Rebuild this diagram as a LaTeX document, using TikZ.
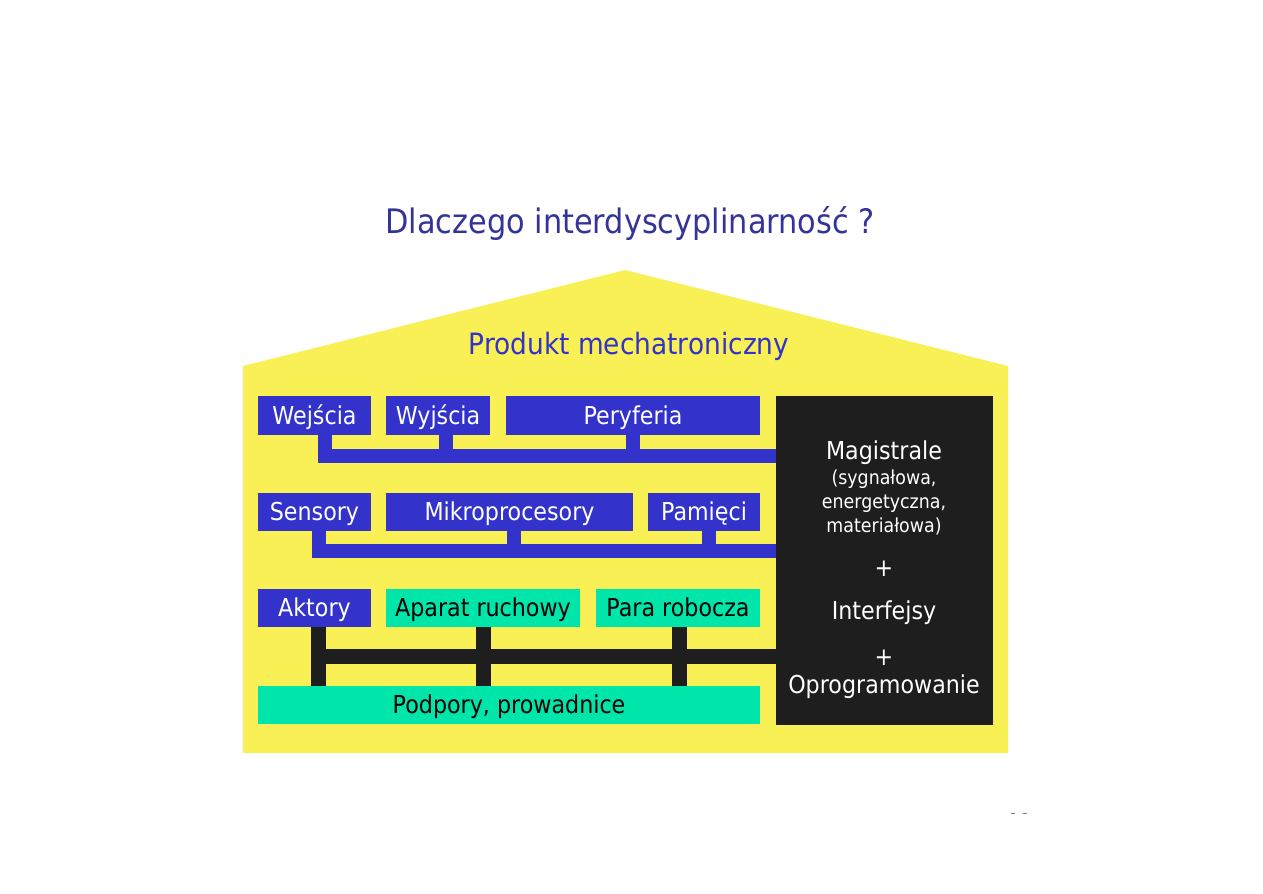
\documentclass[tikz,border=0pt]{standalone}
\usepackage{fontspec}
\setmainfont{DejaVu Sans}[FakeStretch=0.9]
\usetikzlibrary{fit}
\definecolor{houseY}{HTML}{F8F055}
\definecolor{boxB}{HTML}{3333CC}
\definecolor{boxG}{HTML}{00E5AA}
\definecolor{boxK}{HTML}{1E1E1E}
\definecolor{titleB}{HTML}{333399}
\definecolor{prodB}{HTML}{3333CC}
\tikzset{
  boxfont/.style={font=\fontsize{18.5}{20}\selectfont, text height=0.9em, text depth=0.05em},
  bluebox/.style={fill=boxB, inner sep=0pt},
  greenbox/.style={fill=boxG, inner sep=0pt},
  wlabel/.style={boxfont, text=white, inner sep=0pt, yshift=-2.25pt},
  klabel/.style={boxfont, text=black, inner sep=0pt, yshift=-2.25pt},
  blackbox/.style={fill=boxK, inner sep=0pt},
  bluebus/.style={draw=boxB, line width=10.5pt, line join=miter, line cap=butt},
  blackbus/.style={draw=boxK, line width=11.25pt, line join=miter, line cap=butt},
  magtxt/.style={text=white, inner sep=0pt, align=center},
}
\begin{document}
\begin{tikzpicture}[x=0.75pt,y=-0.75pt]
\useasboundingbox (0,0) rectangle (1263,893);
\fill[white] (0,0) rectangle (1263,893);
% house
\fill[houseY] (243,753) -- (243,366) -- (625,270) -- (1008,366) -- (1008,753) -- cycle;
\node[text=titleB, font=\fontsize{25.3}{27}\selectfont] (title) at (630,223) {Dlaczego interdyscyplinarność ?};
\node[text=prodB, font=\fontsize{22}{24}\selectfont] (prod) at (629,346) {Produkt mechatroniczny};
% big black box
\node[blackbox, fit={(776,396) (993,725)}] (mag) {};
% row 1
\node[bluebox, fit={(258,396) (371,435)}, label={[wlabel]center:Wejścia}] (wej) {};
\node[bluebox, fit={(386,396) (490,435)}, label={[wlabel]center:Wyjścia}] (wyj) {};
\node[bluebox, fit={(506,396) (760,435)}, label={[wlabel]center:Peryferia}] (per) {};
% row 2
\node[bluebox, fit={(258,493) (371,531)}, label={[wlabel]center:Sensory}] (sen) {};
\node[bluebox, fit={(386,493) (633,531)}, label={[wlabel]center:Mikroprocesory}] (mik) {};
\node[bluebox, fit={(648,493) (760,531)}, label={[wlabel]center:Pamięci}] (pam) {};
% row 3
\node[bluebox, fit={(258,589) (371,627)}, label={[wlabel]center:Aktory}] (akt) {};
\node[greenbox, fit={(386,589) (580,627)}, label={[klabel]center:Aparat ruchowy}] (apa) {};
\node[greenbox, fit={(596,589) (760,627)}, label={[klabel]center:Para robocza}] (par) {};
\node[greenbox, fit={(258,686) (760,724)}, label={[klabel]center:Podpory, prowadnice}] (pod) {};
% bus coordinates
\coordinate (b1a) at (324.5,455.5);
\coordinate (b1b) at (446,455.5);
\coordinate (b1c) at (633,455.5);
\coordinate (b2a) at (318.5,550.5);
\coordinate (b2b) at (513.5,550.5);
\coordinate (b2c) at (709,550.5);
\coordinate (b3a) at (318.5,656);
\coordinate (b3b) at (483.5,656);
\coordinate (b3c) at (679,656);
% bus 1
\draw[bluebus] (wej.south -| b1a) -- ([yshift=-5.25pt]b1a) ;
\draw[bluebus] ([xshift=-5.25pt]b1a) -- (mag.west |- b1a);
\draw[bluebus] (wyj.south -| b1b) -- (b1b);
\draw[bluebus] (per.south -| b1c) -- (b1c);
% bus 2
\draw[bluebus] (sen.south -| b2a) -- ([yshift=-5.25pt]b2a);
\draw[bluebus] ([xshift=-5.25pt]b2a) -- (mag.west |- b2a);
\draw[bluebus] (mik.south -| b2b) -- (b2b);
\draw[bluebus] (pam.south -| b2c) -- (b2c);
% bus 3
\draw[blackbus] (akt.south -| b3a) -- (pod.north -| b3a);
\draw[blackbus] (apa.south -| b3b) -- (pod.north -| b3b);
\draw[blackbus] (par.south -| b3c) -- (pod.north -| b3c);
\draw[blackbus] ([xshift=-5.6pt]b3a) -- (mag.west |- b3a);
% text in black box
\node[magtxt, font=\fontsize{18.5}{20}\selectfont] (m1) at (884,453) {Magistrale};
\node[magtxt, font=\fontsize{14.5}{18}\selectfont] (m2) at (884,502) {(sygnałowa,\\energetyczna,\\materiałowa)};
\node[magtxt, font=\fontsize{18.5}{20}\selectfont] (m3) at (884,569) {+};
\node[magtxt, font=\fontsize{18.5}{20}\selectfont] (m4) at (884,613) {Interfejsy};
\node[magtxt, font=\fontsize{18.5}{20}\selectfont] (m5) at (884,658) {+};
\node[magtxt, font=\fontsize{18.5}{20}\selectfont] (m6) at (884,687) {Oprogramowanie};
% small marks
\fill[gray] (1011,812.5) rectangle (1015,814);
\fill[gray] (1023,812.5) rectangle (1027,814);
\end{tikzpicture}
\end{document}
